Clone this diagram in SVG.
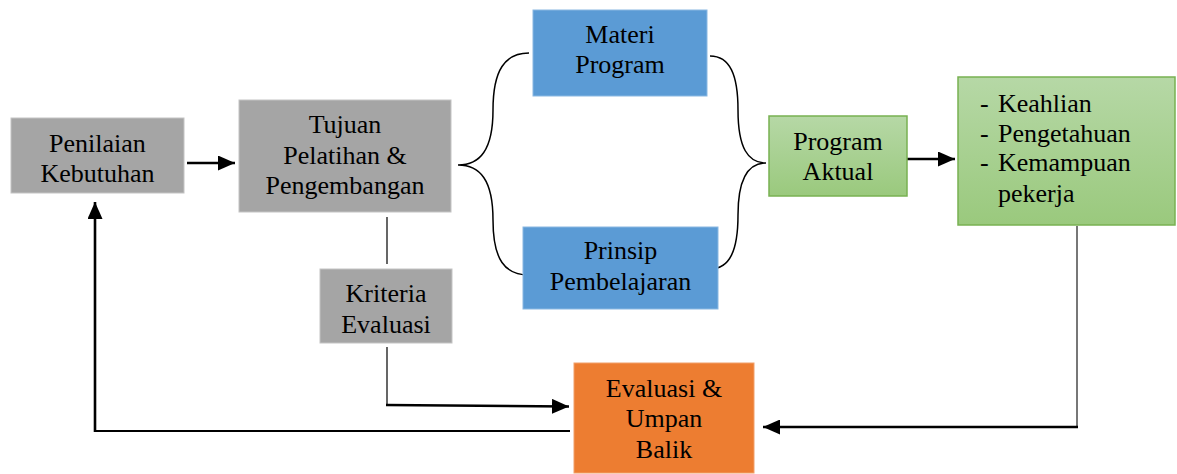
<svg xmlns="http://www.w3.org/2000/svg" width="1177" height="474" viewBox="0 0 1177 474">
  <defs>
    <linearGradient id="greenFill" x1="0" y1="0" x2="0" y2="1">
      <stop offset="0" stop-color="#b6d8a6"/>
      <stop offset="1" stop-color="#9ac97d"/>
    </linearGradient>
    <marker id="head" markerUnits="userSpaceOnUse" markerWidth="17" markerHeight="15" refX="17" refY="7.5" orient="auto">
      <path d="M0,0 L17,7.5 L0,15 z" fill="#000"/>
    </marker>
    <style>
      text { font-family: "Liberation Serif", "Times New Roman", serif; font-size: 26px; fill: #000; }
      .c { text-anchor: middle; }
      .gray { fill: #a5a5a5; stroke: #c4c4c4; stroke-width: 1; }
      .blue { fill: #5b9bd5; stroke: #8ab8e2; stroke-width: 1; }
      .green { fill: url(#greenFill); stroke: #78b152; stroke-width: 1.5; }
      .orange { fill: #ed7d31; stroke: #f1a06b; stroke-width: 1; }
      .thin { fill: none; stroke: #000; stroke-width: 1.2; }
      .bold { fill: none; stroke: #000; stroke-width: 2.6; }
      .brace { fill: none; stroke: #000; stroke-width: 1.5; }
    </style>
  </defs>

  <!-- connectors -->
  <g id="connectors">
    <line class="bold" x1="187" y1="163" x2="235" y2="163" marker-end="url(#head)"/>
    <path class="brace" d="M529,53 C505,53 493,70 493,110 C493,150 480,165 458,165 C480,165 493,180 493,220 C493,260 505,275 529,275"/>
    <path class="brace" d="M710,56 C730,56 738,75 738,110 C738,148 748,163 766,163 C748,163 738,178 738,215 C738,250 730,269 710,269"/>
    <line class="bold" x1="907" y1="159" x2="955" y2="159" marker-end="url(#head)"/>
    <line class="thin" x1="387" y1="217" x2="387" y2="264"/>
    <path class="thin" d="M387,347 V405"/>
    <path class="bold" d="M386,405 L569,406.5" marker-end="url(#head)"/>
    <path fill="none" stroke="#555" stroke-width="1.6" d="M1077,226 V427"/>
    <line class="bold" x1="1078" y1="427" x2="763" y2="427" stroke-width="3" marker-end="url(#head)"/>
    <line fill="none" stroke="#000" stroke-width="1.8" x1="570" y1="431" x2="95" y2="431"/>
    <line class="bold" x1="95" y1="432" x2="95" y2="202" marker-end="url(#head)"/>
  </g>

  <g id="penilaian-kebutuhan">
    <rect class="gray" x="11" y="118" width="173" height="75"/>
    <text class="c" x="97.5" y="152">Penilaian</text>
    <text class="c" x="97.5" y="182">Kebutuhan</text>
  </g>

  <g id="tujuan-pelatihan">
    <rect class="gray" x="239" y="100" width="212" height="112"/>
    <text class="c" x="345" y="133">Tujuan</text>
    <text class="c" x="345" y="164">Pelatihan &amp;</text>
    <text class="c" x="345" y="194">Pengembangan</text>
  </g>

  <g id="materi-program">
    <rect class="blue" x="533" y="10" width="174" height="86"/>
    <text class="c" x="620" y="43">Materi</text>
    <text class="c" x="620" y="73">Program</text>
  </g>

  <g id="prinsip-pembelajaran">
    <rect class="blue" x="523" y="227" width="195" height="82"/>
    <text class="c" x="620.5" y="259">Prinsip</text>
    <text class="c" x="620.5" y="290">Pembelajaran</text>
  </g>

  <g id="program-aktual">
    <rect class="green" x="769" y="116" width="138" height="80"/>
    <text class="c" x="838" y="150">Program</text>
    <text class="c" x="838" y="180">Aktual</text>
  </g>

  <g id="hasil-pekerja">
    <rect class="green" x="958" y="77" width="217" height="148"/>
    <text x="980" y="112">-</text>
    <text x="998" y="112">Keahlian</text>
    <text x="980" y="142">-</text>
    <text x="998" y="142">Pengetahuan</text>
    <text x="980" y="171">-</text>
    <text x="998" y="171">Kemampuan</text>
    <text x="998" y="202">pekerja</text>
  </g>

  <g id="kriteria-evaluasi">
    <rect class="gray" x="320" y="269" width="132" height="74"/>
    <text class="c" x="386" y="302">Kriteria</text>
    <text class="c" x="386" y="333">Evaluasi</text>
  </g>

  <g id="evaluasi-umpan-balik">
    <rect class="orange" x="574" y="363" width="180" height="110"/>
    <text class="c" x="664" y="397">Evaluasi &amp;</text>
    <text class="c" x="664" y="427">Umpan</text>
    <text class="c" x="664" y="458">Balik</text>
  </g>
</svg>
